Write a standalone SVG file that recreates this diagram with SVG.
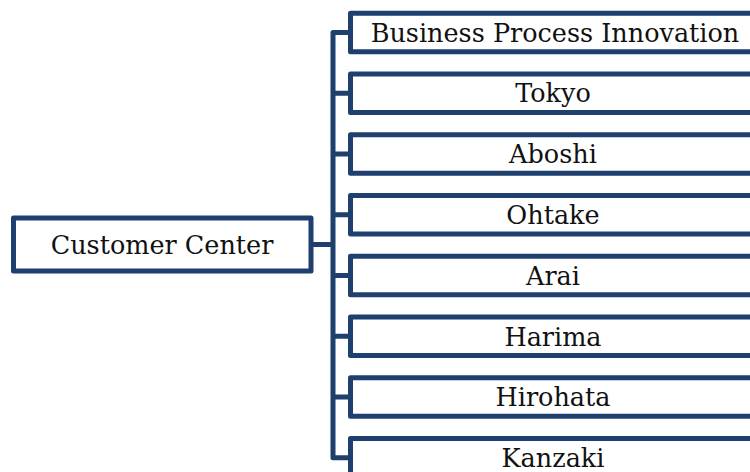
<svg xmlns="http://www.w3.org/2000/svg" width="750" height="472" viewBox="0 0 750 472">
<style>
.box{fill:#ffffff;stroke:#1f3f6f;stroke-width:5;stroke-linejoin:round}
.ln{fill:none;stroke:#1f3f6f;stroke-width:5;stroke-linejoin:round;stroke-linecap:butt}
.t{font-family:"DejaVu Serif","Liberation Serif",serif;font-size:25.5px;fill:#111;text-anchor:middle}
</style>
<rect width="750" height="472" fill="#ffffff"/>
<g id="connectors">
<path class="ln" d="M311,244.5 H333"/>
<path class="ln" d="M350.5,32.5 H333 V457.8 H350.5"/>
<path class="ln" d="M333,93.2 H350.5 M333,154 H350.5 M333,214.8 H350.5 M333,275.5 H350.5 M333,336.3 H350.5 M333,397 H350.5"/>
</g>
<g id="customer-center">
<rect class="box" x="13.5" y="218" width="297.5" height="53"/>
<text class="t" x="162" y="253.7">Customer Center</text>
</g>
<g id="business-process-innovation">
<rect class="box" x="350.5" y="13.2" width="405" height="38.5"/>
<text class="t" x="555" y="41.7">Business Process Innovation</text>
</g>
<g id="tokyo">
<rect class="box" x="350.5" y="74" width="405" height="38.5"/>
<text class="t" x="553" y="102.4">Tokyo</text>
</g>
<g id="aboshi">
<rect class="box" x="350.5" y="134.7" width="405" height="38.5"/>
<text class="t" x="553" y="163.2">Aboshi</text>
</g>
<g id="ohtake">
<rect class="box" x="350.5" y="195.5" width="405" height="38.5"/>
<text class="t" x="553" y="224">Ohtake</text>
</g>
<g id="arai">
<rect class="box" x="350.5" y="256.2" width="405" height="38.5"/>
<text class="t" x="553" y="284.7">Arai</text>
</g>
<g id="harima">
<rect class="box" x="350.5" y="317" width="405" height="38.5"/>
<text class="t" x="553" y="345.5">Harima</text>
</g>
<g id="hirohata">
<rect class="box" x="350.5" y="377.8" width="405" height="38.5"/>
<text class="t" x="553" y="406.2">Hirohata</text>
</g>
<g id="kanzaki">
<rect class="box" x="350.5" y="438.5" width="405" height="38.5"/>
<text class="t" x="553" y="467">Kanzaki</text>
</g>
</svg>
